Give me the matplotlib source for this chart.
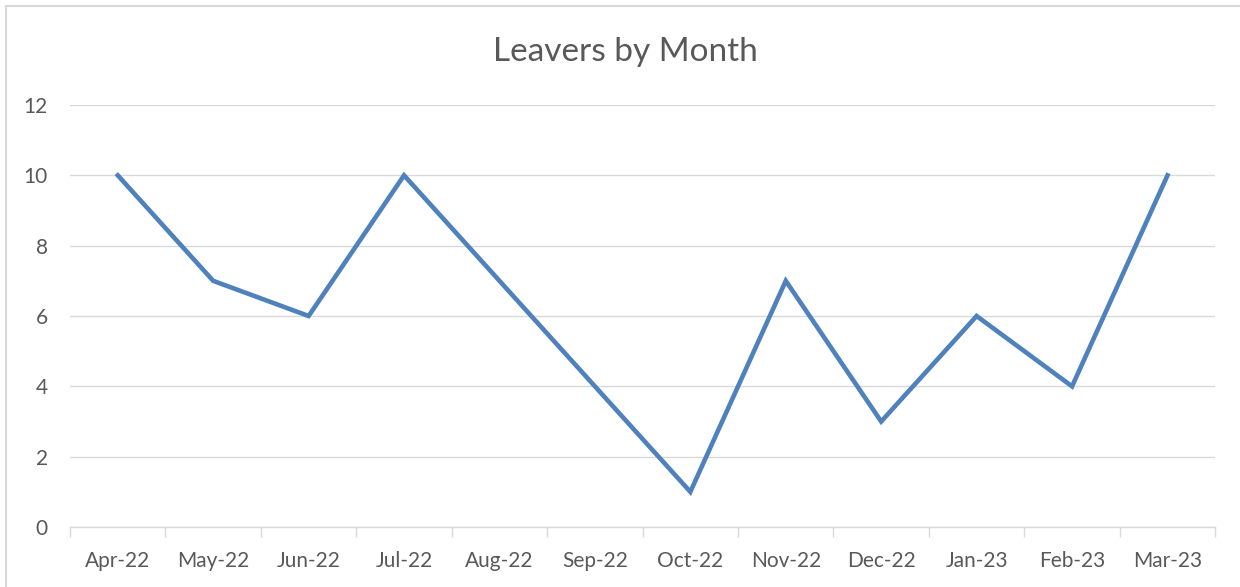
import matplotlib.pyplot as plt
import numpy as np
from matplotlib.patches import Rectangle

months = ["Apr-22", "May-22", "Jun-22", "Jul-22", "Aug-22", "Sep-22",
          "Oct-22", "Nov-22", "Dec-22", "Jan-23", "Feb-23", "Mar-23"]
leavers = [10, 7, 6, 10, 7, 4, 1, 7, 3, 6, 4, 10]
yticks = [0, 2, 4, 6, 8, 10, 12]

plt.rcParams["font.family"] = ["Lato", "DejaVu Sans"]

fig = plt.figure(figsize=(12.4, 5.87), dpi=100)
ax = fig.add_axes([0.0565, 0.1022, 0.9235, 0.7189])

# chart border
fig.patches.append(Rectangle((6 / 1240, -0.01), 1.1, 1 - 6 / 587 + 0.01,
                             transform=fig.transFigure, fill=False,
                             edgecolor="#d9d9d9", linewidth=1.5))

x = np.arange(len(months))
ax.plot(x, leavers, color="#4f81bd", linewidth=3.3, solid_joinstyle="miter")

ax.set_xlim(-0.5, len(months) - 0.5)
ax.set_ylim(0, 12)
ax.set_yticks(yticks)
ax.set_xticks(x)
ax.set_xticklabels(months)
ax.set_xticks(np.arange(-0.5, len(months)), minor=True)
ax.tick_params(axis="x", which="major", length=0, pad=17, labelsize=15, labelcolor="#595959")
ax.tick_params(axis="x", which="minor", length=7, color="#d9d9d9", width=1)
ax.tick_params(axis="y", length=0, pad=16, labelsize=15, labelcolor="#595959")
ax.grid(axis="y", color="#d9d9d9", linewidth=1)
ax.set_axisbelow(True)
for s in ["top", "right", "left"]:
    ax.spines[s].set_visible(False)
ax.spines["bottom"].set_color("#d9d9d9")
ax.spines["bottom"].set_linewidth(1)

fig.text(625 / 1240, 1 - 52 / 587, "Leavers by Month", ha="center", va="center",
         fontsize=24, color="#595959")

fig.savefig("out.png", dpi=100)
